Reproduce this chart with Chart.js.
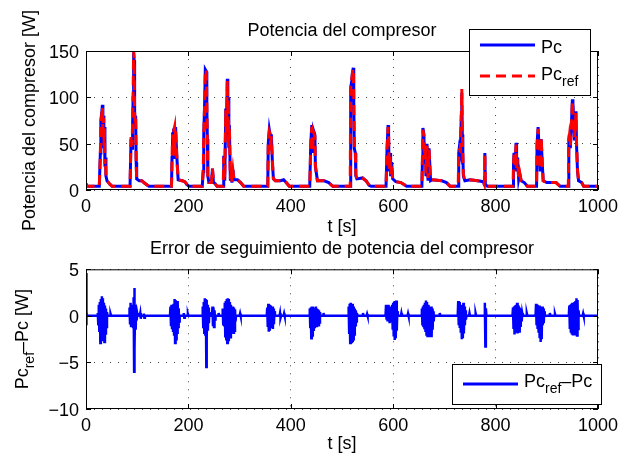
<!DOCTYPE html>
<html>
<head>
<meta charset="utf-8">
<title>Potencia del compresor</title>
<script src="https://cdn.jsdelivr.net/npm/chart.js@4.4.0/dist/chart.umd.min.js"></script>
<style>
  body { margin: 0; background: #fff; }
  #wrap { position: relative; width: 638px; height: 457px; }
  #wrap canvas { position: absolute; left: 0; }
</style>
</head>
<body>
<div id="wrap">
  <canvas id="powerChart" width="638" height="238" style="top:0"></canvas>
  <canvas id="errorChart" width="638" height="219" style="top:238px"></canvas>
</div>
<script>
// compressor power, one row per on-cycle
const timeS = [
  0, 1,
  26, 28, 29, 31, 32, 33, 34, 35, 36, 37, 38, 39, 41, 44, 47, 51,
  86, 88, 90, 91, 92, 93, 94, 95, 96, 97, 98, 99, 104, 109, 113, 118, 123,
  167, 168, 169, 170, 171, 173, 174, 175, 177, 178, 180, 188, 193, 197, 201,
  227, 229, 230, 232, 233, 235, 236, 237, 238, 240, 245, 247, 249, 252, 256,
  268, 269, 271, 273, 274, 276, 277, 278, 279, 280, 282, 284, 285, 287, 289, 296, 302, 308,
  355, 356, 358, 360, 361, 362, 364, 366, 370, 380, 386, 391, 397,
  437, 439, 441, 443, 444, 447, 448, 450, 452, 465, 474, 482,
  516, 517, 519, 520, 521, 522, 523, 524, 526, 527, 529, 540, 547, 553, 557,
  586, 588, 590, 591, 592, 594, 595, 597, 599, 605, 615, 621, 626,
  656, 657, 658, 660, 661, 663, 664, 666, 668, 670, 673, 676, 695, 704, 711,
  727, 728, 729, 731, 733, 734, 735, 736, 737, 740, 750, 765, 776, 778, 779, 780, 784,
  834, 835, 836, 838, 840, 841, 843, 845, 847, 850, 856, 862,
  880, 881, 883, 885, 887, 889, 891, 893, 900, 918, 926,
  942, 943, 944, 946, 948, 950, 951, 952, 954, 955, 957, 958, 960, 962, 968, 972, 1000
];
const pcW = [
  7, 4,
  4, 40, 75, 85, 92, 60, 80, 45, 68, 25, 35, 15, 10, 8, 6, 4,
  4, 55, 45, 70, 100, 148, 140, 85, 70, 80, 30, 12, 10, 10, 8, 6, 4,
  4, 35, 62, 45, 65, 66, 35, 68, 40, 30, 11, 10, 9, 6, 4,
  4, 20, 60, 100, 130, 128, 90, 55, 15, 8, 8, 23, 8, 7, 4,
  4, 37, 10, 88, 60, 120, 70, 100, 45, 70, 10, 20, 8, 22, 11, 11, 8, 4,
  4, 50, 65, 58, 45, 60, 30, 12, 10, 10, 11, 8, 4,
  4, 50, 70, 40, 65, 60, 25, 18, 10, 10, 8, 4,
  4, 110, 118, 125, 128, 132, 95, 45, 40, 15, 12, 13, 10, 5, 4,
  4, 45, 70, 60, 20, 40, 15, 30, 12, 9, 8, 6, 4,
  4, 30, 67, 60, 30, 45, 15, 50, 10, 45, 10, 11, 10, 8, 4,
  4, 40, 45, 40, 80, 105, 60, 40, 15, 10, 11, 10, 9, 6, 40, 6, 4,
  4, 30, 40, 25, 51, 20, 35, 12, 18, 10, 8, 4,
  4, 50, 68, 45, 20, 55, 30, 10, 8, 8, 4,
  4, 55, 60, 45, 70, 98, 80, 82, 55, 65, 85, 50, 20, 10, 8, 4, 4
];
const pcRefW = [
  6, 4,
  4, 38, 72, 83, 90, 63, 78, 48, 66, 28, 33, 17, 10, 8, 6, 4,
  4, 58, 48, 73, 104, 150, 143, 82, 73, 78, 28, 12, 10, 10, 8, 6, 4,
  4, 33, 60, 47, 63, 68, 37, 66, 42, 28, 11, 10, 9, 6, 4,
  4, 22, 58, 98, 128, 130, 92, 53, 14, 8, 8, 23, 9, 7, 4,
  4, 35, 12, 86, 62, 118, 73, 98, 47, 68, 12, 22, 9, 21, 11, 11, 8, 4,
  4, 52, 63, 60, 43, 58, 32, 12, 10, 10, 11, 8, 4,
  4, 48, 68, 42, 63, 58, 27, 17, 10, 10, 8, 4,
  4, 112, 120, 123, 130, 131, 98, 43, 42, 17, 12, 13, 10, 5, 4,
  4, 43, 68, 62, 23, 38, 17, 28, 11, 9, 8, 6, 4,
  4, 32, 65, 58, 33, 47, 18, 48, 13, 43, 11, 11, 10, 8, 4,
  4, 42, 43, 42, 78, 109, 62, 38, 17, 10, 11, 10, 9, 6, 38, 6, 4,
  4, 28, 38, 27, 49, 23, 33, 13, 19, 10, 8, 4,
  4, 48, 66, 47, 23, 57, 32, 10, 8, 8, 4,
  4, 53, 58, 47, 68, 96, 82, 80, 57, 63, 83, 52, 22, 10, 8, 4, 4
];

// tracking error Pc_ref - Pc as [t, W] samples
const errorSamples = [
  [0, 4.6], [0.6, -1.0], [1.2, 0.4], [2, 0],
  [22, 0], [23, 0.3], [24, -0.9], [25, 1.2], [26, -1.6], [27, 1.5], [28, -2.9], [29, 1.8], [30, -2.5], [31, 2.1], [32, -2.2],
  [33, 1.9], [34, -2.6], [35, 1.4], [36, -2.8], [37, 1.1], [38, -1.9], [39, 0.8], [40, -1.2], [41, 0.4], [42, 0],
  [47, 0], [48, 0.2], [49, 0],
  [84, 0], [85, 0.9], [86, -0.8], [87, 1.4], [88, -1.1], [89, 1.2], [90, -0.9], [91, 1.0], [92, -1.2], [93, 2.0], [94, -6.0],
  [94.5, 3.0], [95, -3.5], [96, 1.2], [97, -1.5], [98, 0.6], [99, -0.5], [100, 0.3], [101, 0],
  [105, 0], [106, 0.3], [107, -0.3], [108, 0], [112, 0], [113, 0.25], [114, -0.2], [115, 0],
  [164, 0], [165, 1.0], [166, -1.1], [167, 1.2], [168, -1.3], [169, 1.0], [170, -1.6], [171, 1.3], [172, -2.0], [173, 1.8],
  [174, -2.9], [175, 1.7], [176, -2.5], [177, 1.5], [178, -1.8], [179, 1.6], [180, -1.2], [181, 0.8], [182, -0.6], [183, 0],
  [190, 0], [191, 0.3], [192, -0.2], [193, 0], [198, 0], [199, 0.2], [200, 0],
  [227, 0], [228, 1.0], [229, -1.2], [230, 1.5], [231, -1.8], [232, 1.9], [233, -2.0], [234, 1.8], [235, -5.5], [235.5, 1.7],
  [236, -2.4], [237, 1.2], [238, -1.6], [239, 0.9], [240, -0.8], [241, 0.4], [242, 0],
  [246, 0], [247, 1.0], [248, -1.1], [249, 0.9], [250, -1.2], [251, 0.6], [252, -0.4], [253, 0],
  [258, 0], [259, 0.3], [260, 0],
  [266, 0], [267, 0.8], [268, -0.9], [269, 0.7], [270, -1.0], [271, 1.4], [272, -2.2], [273, 1.6], [274, -2.5], [275, 1.8],
  [276, -2.9], [277, 1.9], [278, -2.6], [279, 1.8], [280, -2.0], [281, 1.5], [282, -2.3], [283, 1.2], [284, -1.6], [285, 0.9],
  [286, -0.8], [287, 1.0], [288, -1.8], [289, 0.9], [290, -1.6], [291, 0.7], [292, -0.6], [293, 0],
  [300, 0], [301, 0.25], [302, 0],
  [353, 0], [354, 0.9], [355, -1.2], [356, 1.3], [357, -1.7], [358, 1.2], [359, -1.6], [360, 1.1], [361, -1.3], [362, 0.9],
  [363, -1.0], [364, 1.0], [365, -1.4], [366, 0.8], [367, -0.9], [368, 0.5], [369, 0],
  [378, 0], [379, 0.3], [380, -0.2], [381, 0], [386, 0], [387, 0.25], [388, 0],
  [436, 0], [437, 0.8], [438, -1.2], [439, 0.9], [440, -2.4], [441, 1.0], [442, -2.1], [443, 1.0], [444, -1.5], [445, 0.9],
  [446, -1.2], [447, 0.8], [448, -1.0], [449, 1.0], [450, -1.1], [451, 0.8], [452, -0.9], [453, 0.7], [454, -1.0], [455, 0.6],
  [456, -0.7], [457, 0.4], [458, 0],
  [463, 0], [464, 0.3], [465, 0],
  [512, 0], [513, 1.0], [514, -1.8], [515, 1.3], [516, -2.9], [517, 1.4], [518, -2.8], [519, 1.2], [520, -2.7], [521, 1.3],
  [522, -2.5], [523, 1.0], [524, -2.0], [525, 0.8], [526, -1.0], [527, 0.6], [528, -0.6], [529, 0.3], [530, 0],
  [540, 0], [541, 0.3], [542, 0], [548, 0], [549, 0.2], [550, 0],
  [585, 0], [586, 1.2], [587, -0.4], [588, 1.1], [589, -0.6], [590, 1.2], [591, -0.5], [592, 0.9], [593, -0.8], [594, 1.0],
  [595, -0.6], [596, 0.8], [597, -0.7], [598, 1.2], [599, -1.5], [600, 1.4], [601, -2.2], [602, 1.5], [603, -2.6], [604, 1.6],
  [605, -2.4], [606, 1.65], [607, -1.6], [608, 0.5], [609, 0],
  [615, 0], [616, 0.3], [617, 0], [628, 0], [629, 0.25], [630, 0],
  [655, 0], [656, 0.8], [657, -0.9], [658, 1.0], [659, -1.1], [660, 1.2], [661, -1.3], [662, 1.4], [663, -1.6], [664, 1.65],
  [665, -2.0], [666, 1.5], [667, -2.3], [668, 1.2], [669, -2.2], [670, 1.0], [671, -2.3], [672, 0.9], [673, -2.0], [674, 1.0],
  [675, -2.3], [676, 0.8], [677, -1.5], [678, 0.5], [679, -0.6], [680, 0],
  [690, 0], [691, 0.3], [692, 0],
  [726, 0], [727, 1.6], [728, -1.0], [729, 1.5], [730, -1.3], [731, 1.2], [732, -1.8], [733, 1.0], [734, -2.5], [735, 1.1],
  [736, -2.4], [737, 1.4], [738, -1.9], [739, 1.0], [740, -1.0], [741, 0.6], [742, -0.4], [743, 0],
  [748, 0], [749, 0.3], [750, 0], [760, 0], [761, 0.25], [762, 0],
  [778, 0], [779, 1.4], [780, -3.3], [781, 0.8], [782, 0],
  [833, 0], [834, 0.9], [835, -1.4], [836, 1.0], [837, -2.0], [838, 1.1], [839, -1.8], [840, 1.2], [841, -1.6], [842, 1.4],
  [843, -1.9], [844, 1.1], [845, -1.5], [846, 0.9], [847, -1.8], [848, 0.8], [849, -1.2], [850, 0.5], [851, -0.6], [852, 0.3], [853, 0],
  [860, 0], [861, 0.25], [862, 0],
  [878, 0], [879, 1.3], [880, -1.0], [881, 1.2], [882, -1.4], [883, 1.0], [884, -1.8], [885, 1.1], [886, -2.4], [887, 1.0],
  [888, -2.8], [889, 0.9], [890, -2.5], [891, 1.0], [892, -1.0], [893, 0.8], [894, -0.8], [895, 0.5], [896, 0],
  [905, 0], [906, 0.3], [907, 0], [915, 0], [916, 0.2], [917, 0],
  [943, 0], [944, 1.1], [945, -1.4], [946, 1.2], [947, -1.8], [948, 1.3], [949, -2.0], [950, 1.4], [951, -2.1], [952, 1.2],
  [953, -1.9], [954, 1.5], [955, -2.1], [956, 1.6], [957, -2.0], [958, 1.9], [959, -2.1], [960, 1.7], [961, -1.4], [962, 0.6], [963, 0],
  [970, 0], [971, 0.25], [972, 0], [1000, 0]
];

const tRange = [0, 1000];
const tStep = 200;
const pcRange = [0, 150];
const pcStep = 50;
const errRange = [-10, 5];
const errStep = 5;

const FONT = '"Liberation Sans", Arial, Helvetica, sans-serif';
Chart.defaults.font.family = FONT;
Chart.defaults.font.size = 18;
Chart.defaults.color = '#000';

const refDash = [10, 6];

// text runs with optional subscripts, e.g. Pc_ref
function runWidth(ctx, parts) {
  let w = 0;
  parts.forEach(p => {
    ctx.font = (p.sub ? 14 : 18) + 'px ' + FONT;
    w += ctx.measureText(p.text).width;
  });
  return w;
}
function drawRun(ctx, parts, x, y) {
  let cx = x;
  parts.forEach(p => {
    ctx.font = (p.sub ? 14 : 18) + 'px ' + FONT;
    ctx.fillText(p.text, cx, p.sub ? y + 6 : y);
    cx += ctx.measureText(p.text).width;
  });
}

// axes box with inward ticks, rotated y label and boxed legend
const matlabFrame = {
  id: 'matlabFrame',
  afterDraw(chart, args, opts) {
    const { ctx, chartArea: a, scales } = chart;
    ctx.save();
    ctx.strokeStyle = '#000';
    ctx.lineWidth = 1;
    ctx.setLineDash([]);
    ctx.strokeRect(a.left + 0.5, a.top + 0.5, a.right - a.left - 1, a.bottom - a.top - 1);
    ctx.beginPath();
    scales.x.ticks.forEach(t => {
      const px = Math.round(scales.x.getPixelForValue(t.value)) + 0.5;
      ctx.moveTo(px, a.bottom); ctx.lineTo(px, a.bottom - 5);
      ctx.moveTo(px, a.top); ctx.lineTo(px, a.top + 5);
    });
    scales.y.ticks.forEach(t => {
      const py = Math.round(scales.y.getPixelForValue(t.value)) + 0.5;
      ctx.moveTo(a.left, py); ctx.lineTo(a.left + 5, py);
      ctx.moveTo(a.right, py); ctx.lineTo(a.right - 5, py);
    });
    ctx.stroke();

    ctx.fillStyle = '#000';
    ctx.textAlign = 'left';
    ctx.textBaseline = 'alphabetic';
    ctx.save();
    ctx.translate(opts.yLabelX, (a.top + a.bottom) / 2);
    ctx.rotate(-Math.PI / 2);
    drawRun(ctx, opts.yLabel, -runWidth(ctx, opts.yLabel) / 2, 0);
    ctx.restore();

    const L = opts.legend;
    ctx.fillStyle = '#fff';
    ctx.fillRect(L.x, L.y, L.w, L.h);
    ctx.strokeStyle = '#000';
    ctx.lineWidth = 1;
    ctx.strokeRect(L.x + 0.5, L.y + 0.5, L.w, L.h);
    L.items.forEach(it => {
      ctx.strokeStyle = it.color;
      ctx.lineWidth = it.width;
      ctx.setLineDash(it.dash || []);
      ctx.beginPath();
      ctx.moveTo(L.lineX0, it.lineY);
      ctx.lineTo(L.lineX1, it.lineY);
      ctx.stroke();
      ctx.setLineDash([]);
      ctx.fillStyle = '#000';
      drawRun(ctx, it.label, L.textX, it.textY);
    });
    ctx.restore();
  }
};

const minusSign = v => String(v).replace('-', '\u2212');

function axisX(bottomPad) {
  return {
    type: 'linear', min: tRange[0], max: tRange[1],
    ticks: { stepSize: tStep, padding: 6, autoSkip: false, maxRotation: 0, callback: minusSign },
    grid: { color: '#444', lineWidth: 1, drawTicks: false },
    border: { display: false, dash: [1, 7] },
    title: { display: true, text: 't [s]', padding: { top: 0, bottom: bottomPad } },
    afterFit: s => { s.height = 48; }
  };
}
function axisY(range, step) {
  return {
    min: range[0], max: range[1],
    ticks: { stepSize: step, padding: 7, labelOffset: 2, autoSkip: false, callback: minusSign },
    grid: { color: '#444', lineWidth: 1, drawTicks: false },
    border: { display: false, dash: [1, 7] },
    afterFit: s => { s.width = 86; }
  };
}

new Chart(document.getElementById('powerChart'), {
  type: 'line',
  data: {
    datasets: [
      {
        label: 'Pc',
        data: timeS.map((t, i) => ({ x: t, y: pcW[i] })),
        borderColor: '#0000ff', borderWidth: 3, pointRadius: 0, tension: 0, order: 2
      },
      {
        label: 'Pc_ref',
        data: timeS.map((t, i) => ({ x: t, y: pcRefW[i] })),
        borderColor: '#ff0000', borderWidth: 3, borderDash: refDash, pointRadius: 0, tension: 0, order: 1
      }
    ]
  },
  options: {
    responsive: false, animation: false, events: [],
    layout: { padding: { left: 0, right: 40, top: 0, bottom: 0 } },
    plugins: {
      legend: { display: false },
      tooltip: { enabled: false },
      title: {
        display: true, text: 'Potencia del compresor', fullSize: false,
        font: { size: 18, weight: 'normal' }, padding: { top: 20, bottom: 9.4 }
      },
      matlabFrame: {
        yLabelX: 35,
        yLabel: [{ text: 'Potencia del compresor [W]' }],
        legend: {
          x: 469, y: 29, w: 121, h: 66, lineX0: 480, lineX1: 535, textX: 541,
          items: [
            { color: '#0000ff', width: 3, lineY: 45, textY: 53, label: [{ text: 'Pc' }] },
            { color: '#ff0000', width: 3, dash: refDash, lineY: 76, textY: 80,
              label: [{ text: 'Pc' }, { text: 'ref', sub: true }] }
          ]
        }
      }
    },
    scales: { x: axisX(0), y: axisY(pcRange, pcStep) }
  },
  plugins: [matlabFrame]
});

new Chart(document.getElementById('errorChart'), {
  type: 'line',
  data: {
    datasets: [{
      label: 'Pc_ref-Pc',
      data: errorSamples.map(s => ({ x: s[0], y: s[1] })),
      borderColor: '#0000ff', borderWidth: 2.5, pointRadius: 0, tension: 0
    }]
  },
  options: {
    responsive: false, animation: false, events: [],
    layout: { padding: { left: 0, right: 40, top: 0, bottom: 0 } },
    plugins: {
      legend: { display: false },
      tooltip: { enabled: false },
      title: {
        display: true, text: 'Error de seguimiento de potencia del compresor', fullSize: false,
        font: { size: 18, weight: 'normal' }, padding: { top: 0, bottom: 9.7 }
      },
      matlabFrame: {
        yLabelX: 28,
        yLabel: [{ text: 'Pc' }, { text: 'ref', sub: true }, { text: '\u2013Pc [W]' }],
        legend: {
          x: 452, y: 126, w: 149, h: 40, lineX0: 463, lineX1: 518, textX: 524,
          items: [
            { color: '#0000ff', width: 3, lineY: 146, textY: 148.7,
              label: [{ text: 'Pc' }, { text: 'ref', sub: true }, { text: '\u2013Pc' }] }
          ]
        }
      }
    },
    scales: { x: axisX(2.4), y: axisY(errRange, errStep) }
  },
  plugins: [matlabFrame]
});
</script>
</body>
</html>
